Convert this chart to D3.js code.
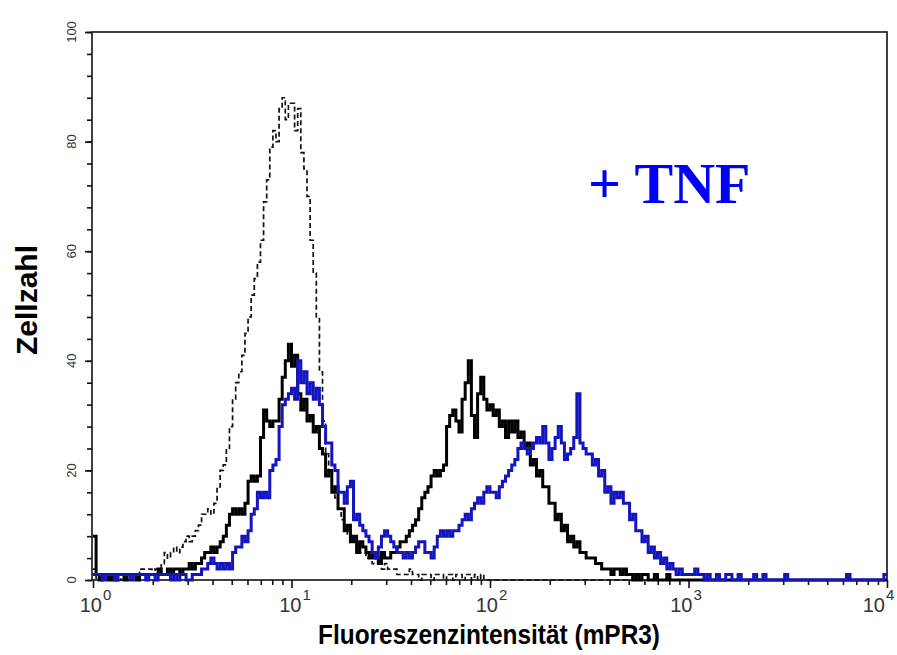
<!DOCTYPE html>
<html>
<head>
<meta charset="utf-8">
<script src="https://cdn.jsdelivr.net/npm/d3@7/dist/d3.min.js"></script>
<style>
  html, body { margin: 0; padding: 0; background: #fff; }
  svg { display: block; }
</style>
</head>
<body>
<svg id="chart" width="897" height="655"></svg>
<script>
// Flow cytometry histogram: 256 log channels over four decades (64 per decade)
const channelsPerDecade = 64;

// Isotype control (dashed)
const isotypeCounts = [
  2,0,0,0,0,0,0,0,1,0,0,0,0,1,1,2,
  2,2,2,1,2,2,3,5,4,5,6,5,6,7,8,7,
  8,9,10,12,12,13,12,14,17,20,21,24,28,33,36,38,
  41,45,48,52,55,58,62,69,73,79,82,80,86,88,84,87,
  87,82,86,78,75,70,62,56,48,38,29,23,20,17,15,13,
  11,10,8,8,7,6,5,5,4,4,3,3,3,2,3,2,
  2,2,1,1,1,1,2,1,1,0,1,1,1,0,1,1,
  1,0,1,1,0,1,1,0,1,1,0,1,0,1,0,0,
  0,0,0,0,0,0,0,0,0,0,0,0,0,0,0,0,
  0,0,0,0,0,0,0,0,0,0,0,0,0,0,0,0,
  0,0,0,0,0,0,0,0,0,0,0,0,0,0,0,0,
  0,0,0,0,0,0,0,0,0,0,0,0,0,0,0,0,
  0,0,0,0,0,0,0,0,0,0,0,0,0,0,0,0,
  0,0,0,0,0,0,0,0,0,0,0,0,0,0,0,0,
  0,0,0,0,0,0,0,0,0,0,0,0,0,0,0,0,
  0,0,0,0,0,0,0,0,0,0,0,0,0,0,0,0
];

// mPR3 staining, unstimulated (solid black)
const untreatedCounts = [
  8,1,0,1,1,0,1,0,1,1,0,1,1,1,0,1,
  1,1,1,1,1,2,1,1,2,1,2,2,1,2,2,3,
  2,3,3,4,5,5,6,5,6,7,8,10,12,13,12,13,
  12,14,18,19,18,19,26,31,29,28,29,29,33,37,40,43,
  39,41,34,31,33,29,30,27,28,24,23,19,20,16,17,13,
  13,9,10,7,8,5,7,6,5,4,5,4,3,5,4,4,
  5,5,6,7,7,8,9,10,11,13,15,16,17,19,20,19,
  20,21,28,30,31,29,27,33,36,40,30,26,34,37,33,31,
  32,30,31,28,29,26,29,27,29,26,27,24,25,21,22,19,
  20,17,17,14,14,11,12,9,10,7,8,6,7,5,5,4,
  4,4,3,3,2,2,2,1,2,2,1,2,1,1,0,1,
  0,1,1,0,0,1,0,0,0,1,0,0,0,0,0,0,
  0,0,0,0,0,0,0,0,0,0,0,0,0,0,0,0,
  0,0,0,0,0,0,0,0,0,0,0,0,0,0,0,0,
  0,0,0,0,0,0,0,0,0,0,0,0,0,0,0,0,
  0,0,0,1,0,0,0,0,0,0,0,0,0,0,0,0
];

// mPR3 staining after TNF stimulation (blue)
const tnfCounts = [
  1,1,1,0,1,1,1,0,1,1,1,1,0,1,1,1,
  1,0,1,1,0,1,1,1,1,0,1,0,1,1,0,0,
  1,1,1,2,2,3,4,3,2,3,2,3,2,5,6,6,
  8,7,9,12,13,16,15,16,15,20,21,22,28,32,33,34,
  35,33,40,36,38,34,36,33,35,32,28,25,25,21,20,16,
  16,14,17,18,11,12,10,9,8,7,5,4,6,8,9,8,
  7,6,5,5,4,5,4,5,6,7,7,5,5,4,6,8,
  9,8,9,8,9,9,10,11,12,11,13,14,15,14,16,17,
  16,16,15,17,18,19,20,21,22,24,25,24,23,24,25,26,
  25,28,25,22,24,26,28,25,22,23,24,26,34,25,24,23,
  23,21,22,19,20,16,17,14,16,15,16,14,14,11,12,9,
  9,7,8,5,6,4,5,3,4,2,3,2,1,2,1,1,
  1,1,2,1,1,0,1,0,0,1,0,0,1,1,0,0,
  1,0,0,0,0,1,0,0,1,0,0,0,0,0,0,1,
  0,0,0,0,0,0,0,0,0,0,0,0,0,0,0,0,
  0,0,0,1,0,0,0,0,0,0,0,0,0,0,0,1
];

const yMajorTicks = [0, 20, 40, 60, 80, 100];
const yMinorStep = 4;
const xDecadeExponents = [0, 1, 2, 3, 4];

const yTitle = "Zellzahl";
const xTitle = "Fluoreszenzintensität (mPR3)";
const treatmentLabel = "+ TNF";

const svg = d3.select("#chart");

const x = d3.scaleLog().domain([1, 1e4]).range([93, 887]);
const y = d3.scaleLinear().domain([0, 100]).range([580, 32]);

// Plot frame
svg.append("rect")
  .attr("x", x(1) - 1).attr("y", y(100))
  .attr("width", x(1e4) - x(1) + 1).attr("height", y(0) - y(100))
  .attr("fill", "none").attr("stroke", "#111").attr("stroke-width", 1.6);

// Y axis: minor ticks every 4 counts, longer ticks at the labelled values
const yMinor = d3.range(0, 101, yMinorStep);
svg.append("g")
  .attr("transform", `translate(${x(1) - 1},0)`)
  .call(d3.axisLeft(y).tickValues(yMinor).tickSize(5).tickFormat(""))
  .call(g => g.select(".domain").remove())
  .call(g => g.selectAll("line").attr("stroke", "#111").attr("stroke-width", 1.6));
svg.append("g")
  .attr("transform", `translate(${x(1) - 1},0)`)
  .call(d3.axisLeft(y).tickValues(yMajorTicks).tickSize(7).tickFormat(""))
  .call(g => g.select(".domain").remove())
  .call(g => g.selectAll("line").attr("stroke", "#111").attr("stroke-width", 1.6));

svg.append("g").selectAll("text")
  .data(yMajorTicks)
  .join("text")
  .attr("transform", d => `translate(76,${y(d)}) rotate(-90)`)
  .attr("text-anchor", "middle")
  .attr("font-family", "Arial, 'Liberation Sans', sans-serif")
  .attr("font-size", 13)
  .attr("fill", "#333")
  .text(d => d);

// X axis: log decades with 2..9 minor ticks
const xMinor = [];
for (let k = 0; k < 4; k++) for (let m = 2; m <= 9; m++) xMinor.push(m * Math.pow(10, k));
const xMajor = xDecadeExponents.map(e => Math.pow(10, e));
svg.append("g")
  .attr("transform", `translate(0,${y(0)})`)
  .call(d3.axisBottom(x).tickValues(xMinor).tickSize(5).tickFormat(""))
  .call(g => g.select(".domain").remove())
  .call(g => g.selectAll("line").attr("stroke", "#111").attr("stroke-width", 1.6));
svg.append("g")
  .attr("transform", `translate(0,${y(0)})`)
  .call(d3.axisBottom(x).tickValues(xMajor).tickSize(8).tickFormat(""))
  .call(g => g.select(".domain").remove())
  .call(g => g.selectAll("line").attr("stroke", "#111").attr("stroke-width", 1.6));

const labelShift = [9, 10, 8, 4, -2];
const xLabels = svg.append("g").selectAll("g")
  .data(xDecadeExponents)
  .join("g")
  .attr("transform", (d, i) => `translate(${x(Math.pow(10, d)) + labelShift[i]},0)`);
xLabels.append("text")
  .attr("x", 0).attr("y", 612)
  .attr("text-anchor", "end")
  .attr("font-family", "Arial, 'Liberation Sans', sans-serif")
  .attr("font-size", 20)
  .attr("fill", "#333")
  .text("10");
xLabels.append("text")
  .attr("x", 1).attr("y", 600)
  .attr("text-anchor", "start")
  .attr("font-family", "Arial, 'Liberation Sans', sans-serif")
  .attr("font-size", 15)
  .attr("fill", "#333")
  .text(d => d);

// Histogram traces drawn as steps on the channel edges
const line = d3.line()
  .x((d, i) => x(Math.pow(10, i / channelsPerDecade)))
  .y(d => y(d))
  .curve(d3.curveStepAfter);
const withEnd = arr => arr.concat([arr[arr.length - 1]]);

svg.append("path")
  .datum(withEnd(isotypeCounts))
  .attr("d", line)
  .attr("fill", "none")
  .attr("stroke", "#111")
  .attr("stroke-width", 1.7)
  .attr("stroke-dasharray", "5,3");

svg.append("path")
  .datum(withEnd(untreatedCounts))
  .attr("d", line)
  .attr("fill", "none")
  .attr("stroke", "#000")
  .attr("stroke-width", 3)
  .attr("stroke-linejoin", "miter");

svg.append("path")
  .datum(withEnd(tnfCounts))
  .attr("d", line)
  .attr("fill", "none")
  .attr("stroke", "#1515c0")
  .attr("stroke-width", 3)
  .attr("stroke-linejoin", "miter");

// Treatment annotation
svg.append("text")
  .attr("x", 588).attr("y", 203)
  .attr("font-family", "'Liberation Serif', 'Times New Roman', serif")
  .attr("font-weight", "bold")
  .attr("font-size", 58)
  .attr("fill", "#0000ff")
  .text(treatmentLabel);

// Axis titles
svg.append("text")
  .attr("transform", "translate(37,300) rotate(-90)")
  .attr("text-anchor", "middle")
  .attr("font-family", "Arial, 'Liberation Sans', sans-serif")
  .attr("font-weight", "bold")
  .attr("font-size", 30)
  .attr("textLength", 110)
  .attr("lengthAdjust", "spacingAndGlyphs")
  .attr("fill", "#000")
  .text(yTitle);

svg.append("text")
  .attr("x", 489).attr("y", 644)
  .attr("text-anchor", "middle")
  .attr("font-family", "Arial, 'Liberation Sans', sans-serif")
  .attr("font-weight", "bold")
  .attr("font-size", 28)
  .attr("textLength", 342)
  .attr("lengthAdjust", "spacingAndGlyphs")
  .attr("fill", "#000")
  .text(xTitle);
</script>
</body>
</html>
